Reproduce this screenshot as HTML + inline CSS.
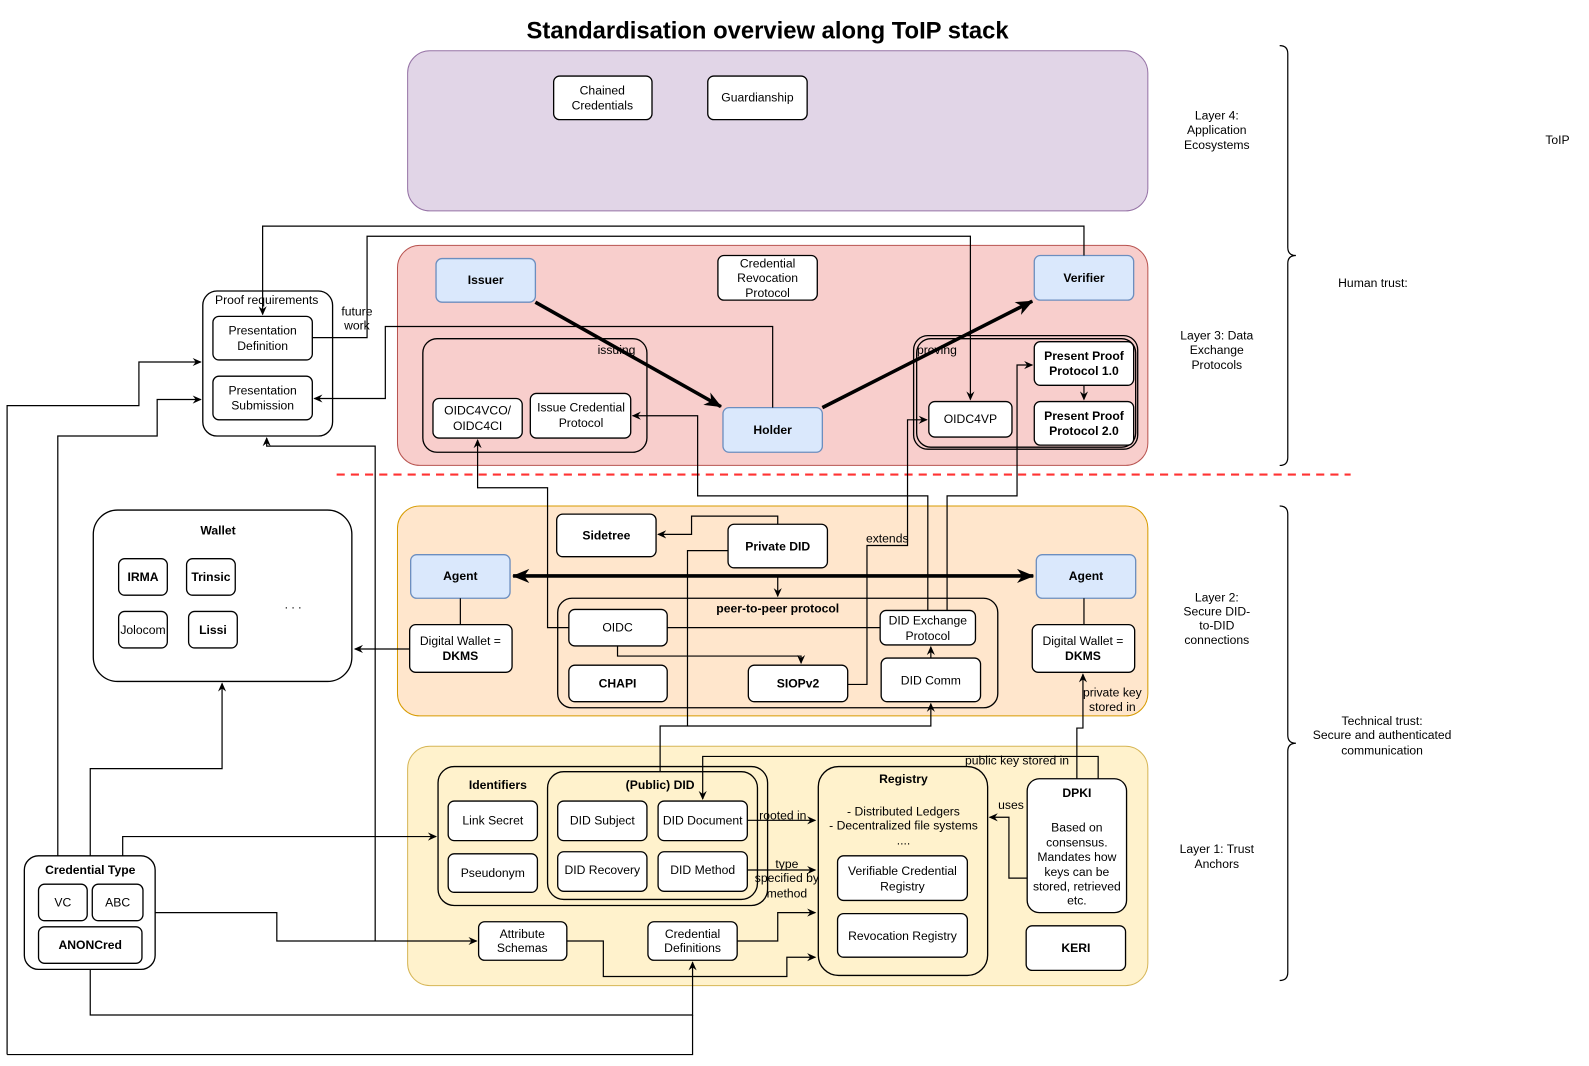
<!DOCTYPE html>
<html><head><meta charset="utf-8"><style>
html,body{margin:0;padding:0;background:#fff;overflow:hidden;width:1589px;height:1066px;}
svg{display:block;position:absolute;left:0;top:0;font-family:"Liberation Sans",Arial,sans-serif;}
text{font-size:12px;fill:#000;}
.b{font-weight:bold;}
</style></head><body>
<svg width="1589" height="1066" viewBox="0 0 1589 1066" xmlns="http://www.w3.org/2000/svg">
<defs>
<marker id="a" markerWidth="10" markerHeight="10" refX="8" refY="5" orient="auto" markerUnits="userSpaceOnUse"><path d="M0,1 L9,5 L0,9 L3,5 z" fill="#000"/></marker>
<marker id="A" markerWidth="20" markerHeight="20" refX="16" refY="8" orient="auto" markerUnits="userSpaceOnUse"><path d="M0,1 L17,8 L0,15 L5,8 z" fill="#000"/></marker>
<marker id="As" markerWidth="20" markerHeight="20" refX="1" refY="8" orient="auto" markerUnits="userSpaceOnUse"><path d="M17,1 L0,8 L17,15 L12,8 z" fill="#000"/></marker>
</defs>
<g transform="scale(1.014)">
<text x="757" y="38" text-anchor="middle" class="b" style="font-size:23.5px">Standardisation overview along ToIP stack</text>

<rect x="402" y="50" width="730" height="158" rx="22" fill="#e1d5e7" stroke="#9673a6"/>
<rect x="392" y="242" width="740" height="217" rx="22" fill="#f8cecc" stroke="#b85450"/>
<rect x="392" y="499" width="740" height="207" rx="22" fill="#ffe6cc" stroke="#d79b00"/>
<rect x="402" y="736" width="730" height="236" rx="22" fill="#fff2cc" stroke="#d6b656"/>
<line x1="332" y1="468" x2="1332" y2="468" stroke="#ff3333" stroke-width="2" stroke-dasharray="8,6"/>

<g fill="none" stroke="#000" stroke-width="1.3">
<rect x="417" y="334" width="221" height="112" rx="14"/>
<rect x="901" y="331" width="221" height="112" rx="14"/>
<rect x="904" y="334" width="216" height="107" rx="14"/>
<rect x="550" y="590" width="434" height="108" rx="14"/>
<rect x="432" y="756" width="325" height="137" rx="16"/>
<rect x="540" y="761" width="207" height="126" rx="16"/>
<rect x="807" y="756" width="167" height="206" rx="20"/>
<rect x="24" y="844" width="129" height="112" rx="14"/>
<rect x="92" y="503" width="255" height="169" rx="24"/>
<rect x="200" y="287" width="128" height="143" rx="14"/>
</g>

<g fill="#fff" stroke="#000" stroke-width="1.3">
<rect x="546" y="75" width="97" height="43" rx="6"/>
<rect x="698" y="75" width="98" height="43" rx="6"/>
<rect x="708" y="252" width="98" height="44" rx="6"/>
<rect x="427" y="393" width="88" height="39" rx="6"/>
<rect x="523" y="388" width="99" height="44" rx="6"/>
<rect x="916" y="396" width="82" height="35" rx="6"/>
<rect x="1020" y="337" width="98" height="43" rx="6"/>
<rect x="1020" y="396" width="98" height="43" rx="6"/>
<rect x="549" y="507" width="98" height="42" rx="6"/>
<rect x="718" y="517" width="98" height="43" rx="6"/>
<rect x="404" y="616" width="101" height="47" rx="6"/>
<rect x="1018" y="616" width="101" height="47" rx="6"/>
<rect x="561" y="601" width="97" height="36" rx="6"/>
<rect x="561" y="656" width="97" height="36" rx="6"/>
<rect x="738" y="656" width="98" height="36" rx="6"/>
<rect x="868" y="602" width="94" height="34" rx="6"/>
<rect x="869" y="649" width="98" height="43" rx="6"/>
<rect x="442" y="790" width="88" height="39" rx="6"/>
<rect x="442" y="842" width="88" height="38" rx="6"/>
<rect x="550" y="790" width="88" height="39" rx="6"/>
<rect x="649" y="790" width="88" height="39" rx="6"/>
<rect x="550" y="840" width="88" height="39" rx="6"/>
<rect x="649" y="840" width="88" height="39" rx="6"/>
<rect x="826" y="844" width="128" height="44" rx="6"/>
<rect x="826" y="901" width="128" height="43" rx="6"/>
<rect x="1013" y="768" width="98" height="132" rx="12"/>
<rect x="1012" y="913" width="98" height="44" rx="6"/>
<rect x="472" y="909" width="87" height="38" rx="6"/>
<rect x="639" y="909" width="88" height="38" rx="6"/>
<rect x="38" y="872" width="48" height="36" rx="6"/>
<rect x="91" y="872" width="50" height="36" rx="6"/>
<rect x="38" y="914" width="102" height="36" rx="6"/>
<rect x="117" y="551" width="48" height="36" rx="6"/>
<rect x="184" y="551" width="48" height="36" rx="6"/>
<rect x="117" y="603" width="48" height="36" rx="6"/>
<rect x="186" y="603" width="48" height="36" rx="6"/>
<rect x="210" y="312" width="98" height="43" rx="6"/>
<rect x="210" y="371" width="98" height="43" rx="6"/>
</g>
<g fill="#dae8fc" stroke="#6c8ebf" stroke-width="1.3">
<rect x="430" y="255" width="98" height="43" rx="6"/>
<rect x="1020" y="252" width="98" height="44" rx="6"/>
<rect x="713" y="402" width="98" height="44" rx="6"/>
<rect x="405" y="547" width="98" height="43" rx="6"/>
<rect x="1022" y="547" width="98" height="43" rx="6"/>
</g>

<g fill="none" stroke="#000" stroke-width="1.2">
<polyline points="1069,252 1069,223 259,223 259,310" marker-end="url(#a)"/>
<polyline points="308,333 362,333 362,233 957,233 957,394" marker-end="url(#a)"/>
<polyline points="762,402 762,322 380,322 380,393 310,393" marker-end="url(#a)"/>
<polyline points="7,1040 7,400 137,400 137,357 198,357" marker-end="url(#a)"/>
<polyline points="57,844 57,430 155,430 155,394 198,394" marker-end="url(#a)"/>
<polyline points="370,928 370,440 263,440 263,432" marker-end="url(#a)"/>
<polyline points="89,844 89,758 219,758 219,674" marker-end="url(#a)"/>
<polyline points="121,844 121,825 430,825" marker-end="url(#a)"/>
<polyline points="153,900 273,900 273,928 470,928" marker-end="url(#a)"/>
<polyline points="89,956 89,1001 683,1001 683,949" marker-end="url(#a)"/>
<polyline points="7,1040 683,1040 683,1001"/>
<polyline points="559,928 595,928 595,963 776,963 776,944 804,944" marker-end="url(#a)"/>
<polyline points="727,928 767,928 767,900 804,900" marker-end="url(#a)"/>
<polyline points="737,809 804,809" marker-end="url(#a)"/>
<polyline points="737,858 804,858" marker-end="url(#a)"/>
<polyline points="1013,866 995,866 995,806 976,806" marker-end="url(#a)"/>
<polyline points="1083,768 1083,746 693,746 693,788" marker-end="url(#a)"/>
<polyline points="1062,768 1062,718 1068,718 1068,665" marker-end="url(#a)"/>
<polyline points="651,761 651,716 918,716 918,694" marker-end="url(#a)"/>
<polyline points="718,543 678,543 678,716"/>
<polyline points="767,517 767,509 682,509 682,527 649,527" marker-end="url(#a)"/>
<polyline points="767,568 767,588" marker-end="url(#a)"/>
<line x1="454" y1="590" x2="454" y2="616"/>
<line x1="1069" y1="590" x2="1069" y2="616"/>
<polyline points="404,640 350,640" marker-end="url(#a)"/>
<polyline points="561,619 540,619 540,481 471,481 471,434" marker-end="url(#a)"/>
<polyline points="658,619 868,619"/>
<polyline points="609,637 609,647 790,647 790,654" marker-end="url(#a)"/>
<polyline points="836,675 855,675 855,538 895,538 895,414 914,414" marker-end="url(#a)"/>
<polyline points="915,602 915,489 688,489 688,410 624,410" marker-end="url(#a)"/>
<polyline points="934,602 934,489 1003,489 1003,360 1018,360" marker-end="url(#a)"/>
<polyline points="918,649 918,638" marker-end="url(#a)"/>
<polyline points="1069,380 1069,394" marker-end="url(#a)"/>
<path d="M1262,45 Q1270,45 1270,53 L1270,244 Q1270,252 1278,252 Q1270,252 1270,260 L1270,451 Q1270,459 1262,459"/>
<path d="M1262,499 Q1270,499 1270,507 L1270,725 Q1270,733 1278,733 Q1270,733 1270,741 L1270,959 Q1270,967 1262,967"/>
</g>
<g stroke="#000" stroke-width="3.5" fill="none">
<line x1="528" y1="298" x2="711" y2="401" marker-end="url(#A)"/>
<line x1="811" y1="402" x2="1018" y2="297" marker-end="url(#A)"/>
<line x1="506" y1="568" x2="1019" y2="568" marker-end="url(#A)" marker-start="url(#As)"/>
</g>

<g text-anchor="middle">
<text x="594" y="93">Chained</text><text x="594" y="108">Credentials</text>
<text x="747" y="100">Guardianship</text>
<text x="757" y="264">Credential</text><text x="757" y="278">Revocation</text><text x="757" y="293">Protocol</text>
<text x="479" y="280" class="b">Issuer</text>
<text x="1069" y="278" class="b">Verifier</text>
<text x="762" y="428" class="b">Holder</text>
<text x="471" y="409">OIDC4VCO/</text><text x="471" y="424">OIDC4CI</text>
<text x="573" y="406">Issue Credential</text><text x="573" y="421">Protocol</text>
<text x="957" y="417">OIDC4VP</text>
<text x="1069" y="355" class="b">Present Proof</text><text x="1069" y="370" class="b">Protocol 1.0</text>
<text x="1069" y="414" class="b">Present Proof</text><text x="1069" y="429" class="b">Protocol 2.0</text>
<text x="608" y="349">issuing</text>
<text x="924" y="349">proving</text>
<text x="598" y="532" class="b">Sidetree</text>
<text x="767" y="543" class="b">Private DID</text>
<text x="454" y="572" class="b">Agent</text>
<text x="1071" y="572" class="b">Agent</text>
<text x="454" y="636">Digital Wallet =</text><text x="454" y="651" class="b">DKMS</text>
<text x="1068" y="636">Digital Wallet =</text><text x="1068" y="651" class="b">DKMS</text>
<text x="767" y="604" class="b">peer-to-peer protocol</text>
<text x="609" y="623">OIDC</text>
<text x="609" y="678" class="b">CHAPI</text>
<text x="787" y="678" class="b">SIOPv2</text>
<text x="915" y="616">DID Exchange</text><text x="915" y="631">Protocol</text>
<text x="918" y="675">DID Comm</text>
<text x="875" y="535">extends</text>
<text x="1097" y="687">private key</text><text x="1097" y="701">stored in</text>
<text x="1003" y="754">public key stored in</text>
<text x="491" y="778" class="b">Identifiers</text>
<text x="651" y="778" class="b">(Public) DID</text>
<text x="486" y="813">Link Secret</text>
<text x="486" y="865">Pseudonym</text>
<text x="594" y="813">DID Subject</text>
<text x="693" y="813">DID Document</text>
<text x="594" y="862">DID Recovery</text>
<text x="693" y="862">DID Method</text>
<text x="772" y="808">rooted in</text>
<text x="776" y="856">type</text><text x="776" y="870">specified by</text><text x="776" y="885">method</text>
<text x="891" y="772" class="b">Registry</text>
<text x="891" y="804">- Distributed Ledgers</text>
<text x="891" y="818">- Decentralized file systems</text>
<text x="891" y="833">....</text>
<text x="890" y="863">Verifiable Credential</text><text x="890" y="878">Registry</text>
<text x="890" y="927">Revocation Registry</text>
<text x="997" y="798">uses</text>
<text x="1062" y="786" class="b">DPKI</text>
<text x="1062" y="820">Based on</text><text x="1062" y="835">consensus.</text><text x="1062" y="849">Mandates how</text><text x="1062" y="864">keys can be</text><text x="1062" y="878">stored, retrieved</text><text x="1062" y="892">etc.</text>
<text x="1061" y="939" class="b">KERI</text>
<text x="515" y="925">Attribute</text><text x="515" y="939">Schemas</text>
<text x="683" y="925">Credential</text><text x="683" y="939">Definitions</text>
<text x="89" y="862" class="b">Credential Type</text>
<text x="62" y="894">VC</text>
<text x="116" y="894">ABC</text>
<text x="89" y="936" class="b">ANONCred</text>
<text x="215" y="527" class="b">Wallet</text>
<text x="141" y="573" class="b">IRMA</text>
<text x="208" y="573" class="b">Trinsic</text>
<text x="141" y="625">Jolocom</text>
<text x="210" y="625" class="b">Lissi</text>
<text x="289" y="600">. . .</text>
<text x="263" y="300">Proof requirements</text>
<text x="259" y="330">Presentation</text><text x="259" y="345">Definition</text>
<text x="259" y="389">Presentation</text><text x="259" y="404">Submission</text>
<text x="352" y="311">future</text><text x="352" y="325">work</text>
<text x="1200" y="118">Layer 4:</text><text x="1200" y="132">Application</text><text x="1200" y="147">Ecosystems</text>
<text x="1536" y="142">ToIP</text>
<text x="1354" y="283">Human trust:</text>
<text x="1200" y="335">Layer 3: Data</text><text x="1200" y="349">Exchange</text><text x="1200" y="364">Protocols</text>
<text x="1200" y="593">Layer 2:</text><text x="1200" y="607">Secure DID-</text><text x="1200" y="621">to-DID</text><text x="1200" y="635">connections</text>
<text x="1363" y="715">Technical trust:</text><text x="1363" y="729">Secure and authenticated</text><text x="1363" y="744">communication</text>
<text x="1200" y="841">Layer 1: Trust</text><text x="1200" y="856">Anchors</text>
</g>
</g>
</svg>
</body></html>
